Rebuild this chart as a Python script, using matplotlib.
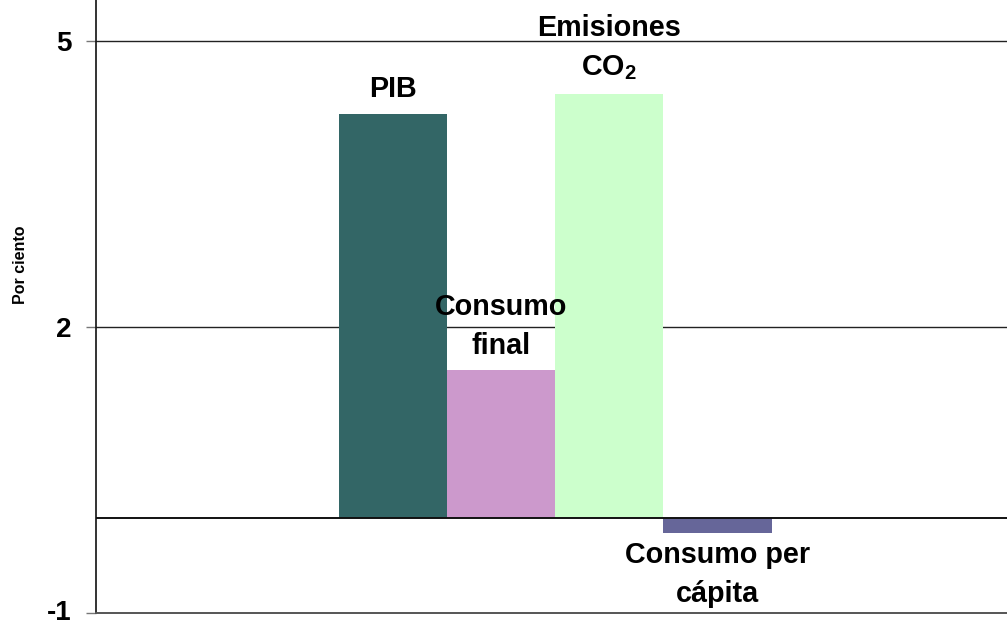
import numpy as np
import matplotlib
matplotlib.use("Agg")
import matplotlib.pyplot as plt
import matplotlib.transforms as mtransforms

plt.rcParams['font.family'] = ['Liberation Sans', 'DejaVu Sans']
plt.rcParams['font.weight'] = 'bold'
plt.rcParams['mathtext.fontset'] = 'custom'
plt.rcParams['mathtext.rm'] = 'Liberation Sans:bold'
plt.rcParams['mathtext.it'] = 'Liberation Sans:bold'
plt.rcParams['mathtext.bf'] = 'Liberation Sans:bold'

# growth rates, percent
series = ['PIB', 'Consumo\nfinal', 'Emisiones\nCO$_2$', 'Consumo per\ncápita']
values = [4.23, 1.55, 4.44, -0.16]
colors = ['#336666', '#CC99CC', '#CCFFCC', '#666699']
yticks = [-1, 2, 5]

fig = plt.figure(figsize=(10.07, 6.26), dpi=100)
ax = fig.add_axes([0.0958, 0.0208, 0.911, 0.9792])

x = np.arange(len(values))
bars = ax.bar(x, values, width=1.0, color=colors, zorder=2)

# horizontal rules behind the bars
for g in [2, 5]:
    ax.axhline(g, color='#222222', lw=1.0, zorder=1)
ax.axhline(0, color='#111111', lw=1.4, zorder=3)

# labels above positive bars, below negative ones (offsets in pixels)
offsets = [25, 43, 46, -42]
for xi, v, lab, off in zip(x, values, series, offsets):
    ax.annotate(lab, xy=(xi, v), xytext=(0, off), textcoords='offset pixels',
                ha='center', va='center', fontsize=20.7, fontweight='bold',
                linespacing=1.5, zorder=4)

ax.set_xlim(-2.74, 5.74)
ax.set_ylim(-1, 5.43)
ax.set_xticks([])
ax.set_yticks(yticks)
ax.set_yticklabels([str(t) for t in yticks], fontsize=20, fontweight='bold')
ax.tick_params(axis='y', length=7, width=1, color='#777777', pad=11)

# nudge the bottom tick label up so it stays inside the canvas
lowest = ax.get_yticklabels()[0]
lowest.set_transform(lowest.get_transform() +
                     mtransforms.ScaledTranslation(0, 3 / 100, fig.dpi_scale_trans))

ax.spines['top'].set_visible(False)
ax.spines['right'].set_visible(False)
ax.spines['left'].set_color('#111111')
ax.spines['left'].set_linewidth(1.2)
ax.spines['bottom'].set_color('#555555')
ax.spines['bottom'].set_linewidth(1.4)

ax.set_ylabel('Por ciento', fontsize=11.5, fontweight='bold')
ax.yaxis.set_label_coords(-0.0747, 0.568)

fig.savefig('out.png', dpi=100)
